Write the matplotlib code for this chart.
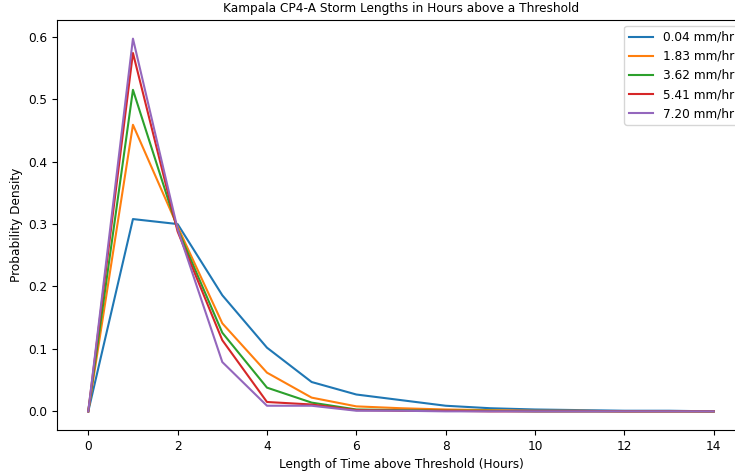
import matplotlib
matplotlib.use("Agg")
import matplotlib.pyplot as plt

# Storm length (hours) and probability density for each rain-rate threshold
hours = [0, 1, 2, 3, 4, 5, 6, 7, 8, 9, 10, 11, 12, 13, 14]
thresholds = ["0.04 mm/hr", "1.83 mm/hr", "3.62 mm/hr", "5.41 mm/hr", "7.20 mm/hr"]

density_004 = [0.0, 0.308, 0.300, 0.186, 0.102, 0.047, 0.027, 0.018, 0.009,
               0.005, 0.003, 0.002, 0.001, 0.001, 0.0]
density_183 = [0.0, 0.459, 0.296, 0.141, 0.062, 0.022, 0.008, 0.005, 0.003,
               0.002, 0.001, 0.001, 0.0, 0.0, 0.0]
density_362 = [0.0, 0.515, 0.292, 0.126, 0.038, 0.014, 0.003, 0.002, 0.001,
               0.001, 0.0, 0.0, 0.0, 0.0, 0.0]
density_541 = [0.0, 0.574, 0.288, 0.114, 0.015, 0.011, 0.002, 0.001, 0.001,
               0.0, 0.0, 0.0, 0.0, 0.0, 0.0]
density_720 = [0.0, 0.597, 0.292, 0.079, 0.009, 0.009, 0.001, 0.001, 0.0,
               0.0, 0.0, 0.0, 0.0, 0.0, 0.0]

all_densities = [density_004, density_183, density_362, density_541, density_720]

plt.rcParams["font.size"] = 8.7
plt.rcParams["axes.titlesize"] = 8.7
plt.rcParams["axes.labelsize"] = 8.7
plt.rcParams["legend.fontsize"] = 8.7

fig = plt.figure(figsize=(7.35, 4.71), dpi=100)
ax = fig.add_axes([57 / 735, 41 / 471, 688 / 735, 410 / 471])

for label, dens in zip(thresholds, all_densities):
    ax.plot(hours, dens, label=label)

ax.set_title("Kampala CP4-A Storm Lengths in Hours above a Threshold")
ax.set_xlabel("Length of Time above Threshold (Hours)")
ax.set_ylabel("Probability Density")
ax.legend(loc="upper right")

fig.savefig("out.png", dpi=100)
